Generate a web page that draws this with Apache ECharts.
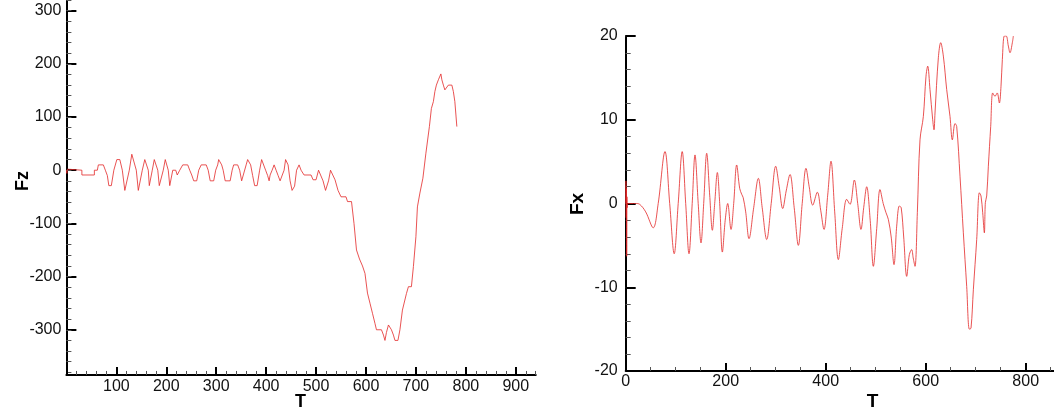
<!DOCTYPE html>
<html><head><meta charset="utf-8">
<script src="https://cdn.jsdelivr.net/npm/echarts/dist/echarts.min.js"></script>
<style>html,body{margin:0;padding:0;background:#fff}#c{width:1054px;height:412px}</style>
</head><body><div id="c"></div><script>
// ---- Data ----
const fzTime = [0,1,2,3,
  31,31,56,56,62,64,74,78,82,85,90,95,
  101,107,112,117,121,126,131,135,140,144,147,152,
  157,161,164,166,168,172,176,179,183,186,189,194,
  198,201,204,207,209,213,219,222,227,233,243,247,
  251,255,261,265,270,280,284,288,295,299,303,305,
  308,311,314,318,328,332,335,343,347,351,355,360,
  363,366,369,373,377,382,387,391,395,399,403,406,
  408,412,416,420,424,428,432,436,439,442,444,448,
  452,455,457,461,466,470,476,490,494,500,505,509,
  514,519,522,525,529,533,538,544,547,550,560,563,
  571,576,581,587,593,598,603,608,613,618,621,631,
  635,638,641,645,648,651,655,658,664,668,673,681,
  685,691,695,700,703,708,714,720,727,731,735,738,
  741,745,747,750,752,755,758,762,765,772,775,778,782];
const fzValues = [0,-6,2,0,
  0,-9,-9,0,0,10,10,0,-10,-29,-29,0,
  20,20,0,-38,-38,0,30,30,0,-38,-38,0,
  20,20,0,-29,-29,0,20,20,0,-29,-29,0,
  20,20,0,-29,-29,0,0,-9,0,10,10,0,
  -9,-20,-20,0,10,10,0,-20,-20,0,10,20,
  20,10,0,-20,-20,0,10,10,0,-20,-20,10,
  20,20,10,-10,-29,-29,0,20,20,0,-10,-20,
  -9,0,10,0,-10,-20,-20,0,20,20,10,-20,
  -38,-38,-30,0,10,0,-9,-9,-18,-18,0,0,
  -20,-38,-38,-20,0,0,-18,-38,-38,-50,-50,-59,
  -59,-100,-150,-167,-180,-194,-231,-250,-269,-288,-300,-300,
  -310,-320,-305,-291,-291,-300,-310,-320,-320,-300,-263,-232,
  -219,-219,-181,-125,-69,-43,-15,32,82,116,129,148,
  160,170,170,181,170,160,151,151,160,160,148,129,82];

const fxTime = [0,0.5,1,1.5,2,2.5,3,4,20,28,
  40,55,65,78.6,88,97,105,113,120,126.6,
  133,138.6,145,150.6,156,162,168,173.3,178,183.3,
  188,193.3,199,204,210.6,216,222,228,232,235,
  240,246.6,256,265.3,273,282,291,300,307,314,
  321,328.6,337,345.3,353,360.6,367,374,383.3,390,
  396.6,404,410.6,418,425.3,433,442,448.6,457.3,464,
  470.6,476,482,489,495.3,502,508.6,515,520.6,525.3,
  531,536.6,542,547.3,551,556,562,567.3,572,575,
  578.6,583.3,588.6,595.3,600.6,604,608.6,614,616.6,618.6,
  625.3,630,635.3,642,648.6,653.3,658.6,662,668.6,675.3,
  682,687.3,690.6,695.3,702,707.3,710.6,714,717.3,719.3,
  722,725.3,730,734,738.6,743,747.3,750.6,753.3,757.3,
  761,765.3,768.6,773.3,775.3];
const fxValues = [0,2.7,-1.7,1.8,-6.3,0.8,-0.5,0,0,-0.1,
  -1.0,-2.9,0,6.2,0,-6.0,0,6.2,0,-6.0,
  0,5.8,0,-4.7,0,6.0,1,-3.2,0,3.7,
  0,-5.8,-2,0,-3.1,0,4.6,1.8,1.1,0.7,
  -1,-4.2,-0.5,3.0,-0.5,-4.3,0,4.45,2,-0.6,
  1.5,3.46,-0.5,-5.0,0,4.2,2,-0.2,1.35,-0.8,
  -3.1,1,5.05,-1,-6.7,-3,0.5,-0.1,2.8,0,
  -3.1,-0.5,2.0,-2,-7.5,-3,1.67,0,-1.1,-1.9,
  -4,-7.3,-2.7,-0.3,-0.5,-4,-8.7,-6.1,-5.5,-6.5,
  -7.5,-1.1,7.6,10.4,15.2,16.4,13.6,10.0,8.8,10.8,
  17.4,19.2,17.6,13.6,10.4,7.6,9.55,9.2,3.26,-3.5,
  -9.9,-15.0,-14.9,-10.3,-4.3,1.28,0.9,-1.1,-3.5,0.1,
  0.9,4.45,9.2,13.2,12.8,13.2,12.0,14.0,17.2,20.0,
  20.0,18.8,18.0,19.2,20.0];

// tick settings
const fzMajor = 100, fzMinor = 20, tMajorL = 100, tMinorL = 20;
const fxMajor = 10, fxMinor = 2, tMajorR = 200, tMinorR = 50;

// ---- Layout helpers ----
const FONT = '"Liberation Sans", Arial, sans-serif';
const grids = [], xAxes = [], yAxes = [];
function baseAxis(i){return {type:'value',gridIndex:i,axisLine:{show:false,onZero:false},axisTick:{show:false},axisLabel:{show:false},splitLine:{show:false},minorTick:{show:false}};}
function addGrid(g, xa, ya){
  const i = grids.length;
  grids.push(Object.assign({show:false}, g));
  xAxes.push(Object.assign(baseAxis(i), {min:0,max:1}, xa));
  yAxes.push(Object.assign(baseAxis(i), {min:0,max:1}, ya));
  return i;
}
const LINE = {show:true,onZero:false,lineStyle:{color:'#000',width:2}};
const MAJ = {show:true,inside:true,length:10,lineStyle:{color:'#000',width:2}};
const MAJX = {show:true,inside:true,length:8,lineStyle:{color:'#000',width:2}};
const MIN = {show:true,inside:true,length:5,lineStyle:{color:'#555',width:1}};
const MINX = {show:true,inside:true,length:4,lineStyle:{color:'#555',width:1}};
function lab(margin, fmt){return {show:true,margin:margin,fontSize:16,color:'#111',fontFamily:FONT,formatter:fmt||(v=>String(v))};}

// ---- Left panel (Fz) ----
const L = {x0:66.4, kx:0.4993, y0:170.2, ky:0.5319, tMax:940, fMin:-385, fMax:320};
const lpy = f => L.y0 - L.ky*f;
const gL = addGrid({left:L.x0, top:lpy(L.fMax), width:L.kx*L.tMax, height:lpy(L.fMin)-lpy(L.fMax)},
  {min:0,max:L.tMax,interval:tMinorL,axisLine:LINE,axisTick:MINX},
  {min:L.fMin,max:L.fMax,axisLine:LINE});
addGrid({left:L.x0, top:0, width:L.kx*900, height:lpy(L.fMin)},
  {min:0,max:900,interval:tMajorL,axisTick:MAJX,axisLabel:lab(4,v=>v===0?'':String(v))},{});
addGrid({left:L.x0, top:lpy(300), width:100, height:lpy(-300)-lpy(300)},
  {}, {min:-300,max:300,interval:fzMajor,axisTick:MAJ,axisLabel:lab(5)});
addGrid({left:L.x0, top:lpy(320), width:100, height:lpy(-380)-lpy(320)},
  {}, {min:-380,max:320,interval:fzMinor,axisTick:MIN});

// ---- Right panel (Fx) ----
const R = {x0:625.7, kx:0.5, y0:203.5, ky:8.375};
const rTMax = (1054 - R.x0)/R.kx;
const gR = addGrid({left:R.x0, top:R.y0-R.ky*20, width:R.kx*rTMax, height:R.ky*40},
  {min:0,max:rTMax,interval:tMinorR,axisLine:LINE,axisTick:MINX},
  {min:-20,max:20,interval:fxMinor,axisLine:LINE,axisTick:MIN});
addGrid({left:R.x0, top:R.y0-R.ky*20, width:R.kx*800, height:R.ky*40},
  {min:0,max:800,interval:tMajorR,axisTick:MAJX,axisLabel:lab(3)},
  {min:-20,max:20,interval:fxMajor,axisTick:MAJ,axisLabel:lab(8)});

const zip = (a,b) => a.map((v,i)=>[v,b[i]]);
const lineStyle = {color:'rgba(228,40,40,0.8)', width:1};

const chart = echarts.init(document.getElementById('c'), null, {renderer:'canvas'});
chart.setOption({
  animation:false,
  grid:grids, xAxis:xAxes, yAxis:yAxes,
  series:[
    {type:'line', xAxisIndex:gL, yAxisIndex:gL, data:zip(fzTime,fzValues), showSymbol:false, lineStyle:lineStyle, clip:true},
    {type:'line', xAxisIndex:gR, yAxisIndex:gR, data:zip(fxTime,fxValues), showSymbol:false, smooth:0.35, lineStyle:lineStyle, clip:true}
  ],
  graphic:[
    {type:'text', x:23.5, y:181, rotation:Math.PI/2, style:{text:'Fz', font:'bold 18px '+FONT, fill:'#000', align:'center', verticalAlign:'middle'}},
    {type:'text', x:300.5, y:402.5, style:{text:'T', font:'bold 18px '+FONT, fill:'#000', align:'center', verticalAlign:'middle'}},
    {type:'text', x:578, y:204, rotation:Math.PI/2, style:{text:'Fx', font:'bold 19px '+FONT, fill:'#000', align:'center', verticalAlign:'middle'}},
    {type:'text', x:872.5, y:402, style:{text:'T', font:'bold 19px '+FONT, fill:'#000', align:'center', verticalAlign:'middle'}}
  ]
});
</script></body></html>
